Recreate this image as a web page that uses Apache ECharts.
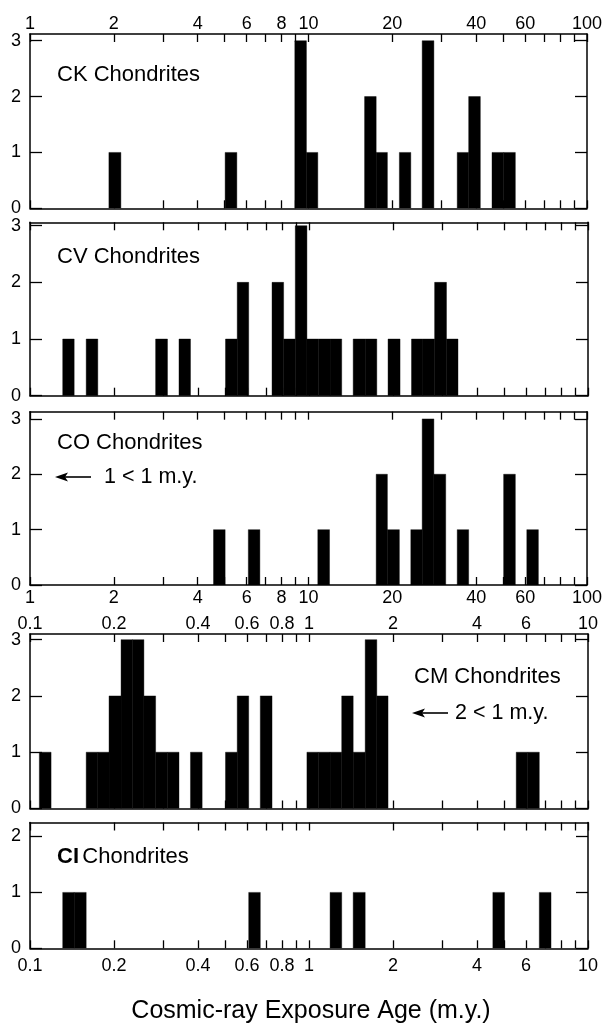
<!DOCTYPE html>
<html>
<head>
<meta charset="utf-8">
<script src="https://cdn.jsdelivr.net/npm/echarts@6/dist/echarts.min.js"></script>
<style>
html,body{margin:0;padding:0;background:#fff;}
#chart{width:605px;height:1025px;}
</style>
</head>
<body>
<div id="chart"></div>
<script>
// ---- Data: histogram bins (lower edge, upper edge, count), ages in m.y. ----
const ckLo = [1.92, 5.02, 8.93, 9.83, 15.9, 17.5, 21.2, 25.6, 34.2, 37.6, 45.6, 50.2];
const ckHi = [2.12, 5.53, 9.83, 10.8, 17.5, 19.2, 23.3, 28.2, 37.6, 41.4, 50.2, 55.3];
const ckN  = [1, 1, 3, 1, 2, 1, 1, 3, 1, 2, 1, 1];

const cvLo = [1.31, 1.59, 2.82, 3.42, 5.02, 5.53, 7.37, 8.11, 8.93, 9.83, 10.8, 11.9, 14.4, 15.9, 19.2, 23.3, 25.6, 28.2, 31.1];
const cvHi = [1.44, 1.75, 3.11, 3.76, 5.53, 6.08, 8.11, 8.93, 9.83, 10.8, 11.9, 13.1, 15.9, 17.5, 21.2, 25.6, 28.2, 31.1, 34.2];
const cvN  = [1, 1, 1, 1, 1, 2, 2, 1, 3, 1, 1, 1, 1, 1, 1, 1, 1, 2, 1];

const coLo = [4.56, 6.08, 10.8, 17.5, 19.2, 23.3, 25.6, 28.2, 34.2, 50.2, 60.8];
const coHi = [5.02, 6.69, 11.9, 19.2, 21.2, 25.6, 28.2, 31.1, 37.6, 55.3, 66.9];
const coN  = [1, 1, 1, 2, 1, 1, 3, 2, 1, 2, 1];

const cmLo = [0.108, 0.159, 0.175, 0.192, 0.212, 0.233, 0.256, 0.282, 0.311, 0.376, 0.502, 0.553, 0.669, 0.983, 1.08, 1.19, 1.31, 1.44, 1.59, 1.75, 5.53, 6.08];
const cmHi = [0.119, 0.175, 0.192, 0.212, 0.233, 0.256, 0.282, 0.311, 0.342, 0.414, 0.553, 0.608, 0.737, 1.08, 1.19, 1.31, 1.44, 1.59, 1.75, 1.92, 6.08, 6.69];
const cmN  = [1, 1, 1, 2, 3, 3, 2, 1, 1, 1, 1, 2, 2, 1, 1, 1, 2, 1, 3, 2, 1, 1];

const ciLo = [0.131, 0.144, 0.608, 1.19, 1.44, 4.56, 6.69];
const ciHi = [0.144, 0.159, 0.669, 1.31, 1.59, 5.02, 7.37];
const ciN  = [1, 1, 1, 1, 1, 1, 1];

// ---- Axis ticks and labels ----
const topTicks = [1,2,3,4,5,6,7,8,9,10,20,30,40,50,60,70,80,90,100];
const topLabels = [1,2,4,6,8,10,20,40,60,100];
const lowTicks = [0.1,0.2,0.3,0.4,0.5,0.6,0.7,0.8,0.9,1,2,3,4,5,6,7,8,9,10];
const lowLabels = [0.1,0.2,0.4,0.6,0.8,1,2,4,6,10];
const yLabels3 = [0,1,2,3];
const yLabels2 = [0,1,2];

const panelNames = ['CK Chondrites','CV Chondrites','CO Chondrites','CM Chondrites','CI Chondrites'];
const coNote = '1 < 1 m.y.';
const cmNote = '2 < 1 m.y.';
const xTitle = 'Cosmic-ray Exposure Age (m.y.)';

const FONT = '"Liberation Sans", Arial, Helvetica, sans-serif';

const panels = [
  {lo: ckLo, hi: ckHi, n: ckN, xmin: 1,   xmax: 100, ymax: 3.12, yl: yLabels3, ticks: topTicks, labels: topLabels, labelPos: 'top',    margin: 0.5, top: 34,    height: 174.3},
  {lo: cvLo, hi: cvHi, n: cvN, xmin: 1,   xmax: 100, ymax: 3.06, yl: yLabels3, ticks: topTicks, labels: topLabels, labelPos: null,     margin: 0,   top: 222.3, height: 173.4},
  {lo: coLo, hi: coHi, n: coN, xmin: 1,   xmax: 100, ymax: 3.13, yl: yLabels3, ticks: topTicks, labels: topLabels, labelPos: 'bottom', margin: 4,   top: 411.7, height: 173.3},
  {lo: cmLo, hi: cmHi, n: cmN, xmin: 0.1, xmax: 10,  ymax: 3.1,  yl: yLabels3, ticks: lowTicks, labels: lowLabels, labelPos: 'top',    margin: 1,   top: 634,   height: 174.5},
  {lo: ciLo, hi: ciHi, n: ciN, xmin: 0.1, xmax: 10,  ymax: 2.25, yl: yLabels2, ticks: lowTicks, labels: lowLabels, labelPos: 'bottom', margin: 9,   top: 822.5, height: 125.8}
];

const grids = [], xAxes = [], yAxes = [], series = [];
const lineStyle = {color: '#000', width: 1.5};
const tickStyle = {color: '#000', width: 1.3};

panels.forEach((p, i) => {
  grids.push({left: 30, right: 17, top: p.top, height: p.height, containLabel: false});
  ['bottom', 'top'].forEach(pos => {
    xAxes.push({
      type: 'log', logBase: 10, gridIndex: i, position: pos, min: p.xmin, max: p.xmax,
      axisLine: {show: true, onZero: false, lineStyle: lineStyle},
      axisTick: {show: true, inside: true, length: 8, customValues: p.ticks, lineStyle: tickStyle},
      axisLabel: {show: p.labelPos === pos, customValues: p.labels, margin: p.margin,
                  fontSize: 18, color: '#000', fontFamily: FONT, formatter: v => String(v)},
      splitLine: {show: false}, minorTick: {show: false}, minorSplitLine: {show: false}
    });
  });
  ['left', 'right'].forEach(pos => {
    yAxes.push({
      type: 'value', gridIndex: i, position: pos, min: 0, max: p.ymax,
      axisLine: {show: true, onZero: false, lineStyle: lineStyle},
      axisTick: {show: true, inside: true, length: 12, customValues: p.yl, lineStyle: tickStyle},
      axisLabel: {show: pos === 'left', customValues: p.yl, margin: 9, fontSize: 18, color: '#000', fontFamily: FONT},
      splitLine: {show: false}
    });
  });
  const data = p.lo.map((lo, k) => [lo, p.hi[k], p.n[k]]);
  series.push({
    type: 'custom', xAxisIndex: i * 2, yAxisIndex: i * 2, silent: true,
    encode: {x: [0, 1], y: 2},
    data: data,
    clip: true,
    renderItem: function (params, api) {
      const a = api.coord([api.value(0), 0]);
      const b = api.coord([api.value(1), api.value(2)]);
      return {type: 'rect', shape: {x: a[0], y: b[1], width: b[0] - a[0], height: a[1] - b[1]},
              style: {fill: '#000', stroke: '#000', lineWidth: 0.4}};
    }
  });
});

const txt = (x, y, s, size) => ({type: 'text', x: x, y: y, z: 10,
  style: {text: s, fontSize: size, fill: '#000', fontFamily: FONT, align: 'left', verticalAlign: 'middle'}});

function arrow(x, y, len) {
  return [
    {type: 'polygon', z: 10, shape: {points: [[x, y], [x + 13, y - 4.5], [x + 10, y], [x + 13, y + 4.5]]}, style: {fill: '#000'}},
    {type: 'line', z: 10, shape: {x1: x + 9, y1: y, x2: x + len, y2: y}, style: {stroke: '#000', lineWidth: 1.6}}
  ];
}

const graphics = [
  txt(57, 75, panelNames[0], 22),
  txt(57, 257, panelNames[1], 22),
  txt(57, 443, panelNames[2], 22),
  txt(104, 477, coNote, 21.5),
  ...arrow(55, 477, 36),
  txt(414, 677, panelNames[3], 22),
  txt(455, 713, cmNote, 21.5),
  ...arrow(412, 713, 36),
  {type: 'text', x: 57, y: 857, z: 10, style: {
    text: '{b|CI} {n|Chondrites}', fontFamily: FONT, fill: '#000', align: 'left', verticalAlign: 'middle',
    rich: {b: {fontSize: 22, fontWeight: 'bold', fontFamily: FONT}, n: {fontSize: 22, fontFamily: FONT}}}},
  {type: 'text', x: 311, y: 1011, z: 10, style: {text: xTitle, fontSize: 25, fill: '#000', fontFamily: FONT, align: 'center', verticalAlign: 'middle'}}
];

const chart = echarts.init(document.getElementById('chart'), null, {renderer: 'canvas'});
chart.setOption({
  backgroundColor: '#fff',
  animation: false,
  grid: grids,
  xAxis: xAxes,
  yAxis: yAxes,
  series: series,
  graphic: graphics
});
</script>
</body>
</html>
